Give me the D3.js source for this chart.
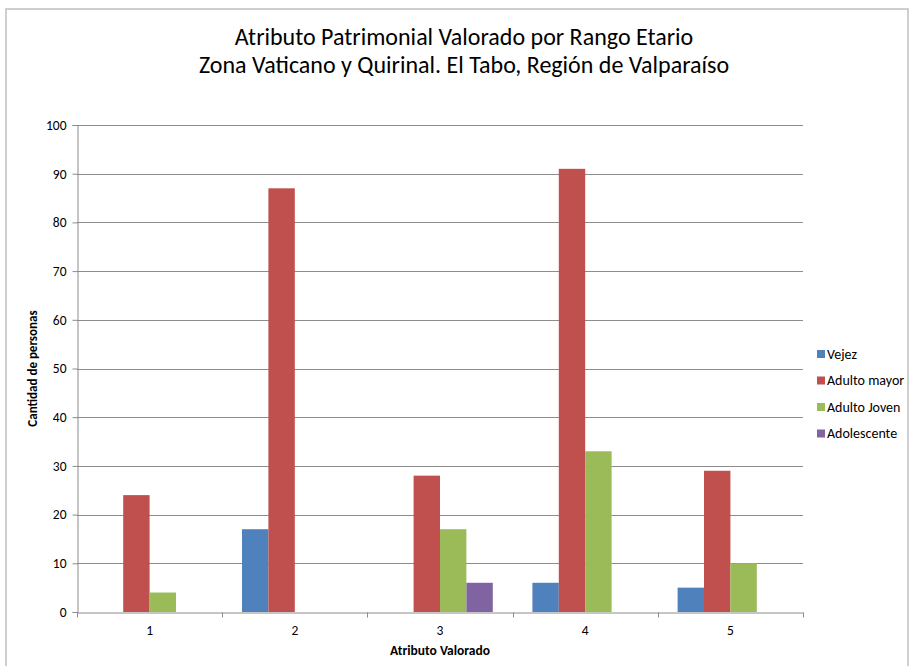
<!DOCTYPE html>
<html><head><meta charset="utf-8">
<script src="https://cdn.jsdelivr.net/npm/d3@7"></script>
<style>
body{margin:0;background:#fff;}
svg{display:block;}
</style></head>
<body>
<svg id="chart" width="911" height="666"></svg>
<script>
const categories = ["1","2","3","4","5"];
const seriesNames = ["Vejez","Adulto mayor","Adulto Joven","Adolescente"];
const vejez       = [0, 17, 0, 6, 5];
const adultoMayor = [24, 87, 28, 91, 29];
const adultoJoven = [4, 0, 17, 33, 10];
const adolescente = [0, 0, 6, 0, 0];
const colors = ["#4f81bd","#c0504d","#9bbb59","#8064a2"];
const yTicks = [0,10,20,30,40,50,60,70,80,90,100];
const titleLines = ["Atributo Patrimonial Valorado por Rango Etario","Zona Vaticano y Quirinal. El Tabo, Región de Valparaíso"];
const xTitle = "Atributo Valorado";
const yTitle = "Cantidad de personas";

const seriesValues = [vejez, adultoMayor, adultoJoven, adolescente];
const font = "Carlito, Calibri, 'Liberation Sans Narrow', 'Liberation Sans', sans-serif";

const svg = d3.select("#chart");
const pLeft = 77, pRight = 803, pTop = 125, pBottom = 612;

// outer frame
svg.append("rect").attr("x",6).attr("y",9).attr("width",902).attr("height",680)
  .attr("fill","none").attr("stroke","#c0c0c0").attr("stroke-width",1.5);

const x = d3.scaleBand().domain(categories).range([pLeft,pRight]).paddingInner(0).paddingOuter(0);
const groupInner = x.bandwidth()/5.5*4;
const xs = d3.scaleBand().domain(seriesNames).range([0, groupInner]);
const y = d3.scaleLinear().domain([0,100]).range([pBottom, pTop]);

// gridlines
svg.append("g").selectAll("line").data(yTicks.filter(d=>d>0)).join("line")
  .attr("x1",pLeft).attr("x2",pRight)
  .attr("y1",d=>Math.round(y(d))+0.5).attr("y2",d=>Math.round(y(d))+0.5)
  .attr("stroke","#8c8c8c").attr("stroke-width",1);

// bars
const gap = (x.bandwidth()-groupInner)/2;
seriesNames.forEach((s,si)=>{
  svg.append("g").selectAll("rect").data(categories.map((c,i)=>({c, v: seriesValues[si][i]}))).join("rect")
    .attr("x", d=> x(d.c)+gap+xs(s))
    .attr("width", xs.bandwidth())
    .attr("y", d=> y(d.v))
    .attr("height", d=> y(0)-y(d.v))
    .attr("fill", colors[si]);
});

// y axis
const yAxis = d3.axisLeft(y).tickValues(yTicks).tickSize(5).tickPadding(6);
const yg = svg.append("g").attr("transform",`translate(${pLeft+0.5},0)`).call(yAxis);
yg.select(".domain").attr("stroke","#8c8c8c");
yg.selectAll(".tick line").attr("stroke","#8c8c8c");
yg.selectAll(".tick text").attr("font-family",font).attr("font-size",13.5).attr("fill","#000");

// x axis
const xAxis = d3.axisBottom(x).tickSize(0).tickPadding(13);
const xg = svg.append("g").attr("transform",`translate(0,${pBottom+0.5})`).call(xAxis);
xg.select(".domain").attr("stroke","#8c8c8c");
xg.selectAll(".tick text").attr("font-family",font).attr("font-size",13.5).attr("fill","#000");
const bounds = categories.map(c=>x(c)).concat([pRight]);
xg.append("g").selectAll("line").data(bounds).join("line")
  .attr("x1",d=>Math.round(d)+0.5).attr("x2",d=>Math.round(d)+0.5)
  .attr("y1",0).attr("y2",5).attr("stroke","#8c8c8c");

// titles
svg.append("g").selectAll("text").data(titleLines).join("text")
  .attr("x",464).attr("y",(d,i)=>45+i*28)
  .attr("text-anchor","middle").attr("font-family",font).attr("font-size",24).attr("fill","#000")
  .text(d=>d);

svg.append("text").attr("x",(pLeft+pRight)/2).attr("y",655)
  .attr("text-anchor","middle").attr("font-family",font).attr("font-size",13.5).attr("font-weight","bold")
  .text(xTitle);

svg.append("text").attr("transform",`translate(37,${(pTop+pBottom)/2}) rotate(-90)`)
  .attr("text-anchor","middle").attr("font-family",font).attr("font-size",13).attr("font-weight","bold")
  .text(yTitle);

// legend
const lg = svg.append("g").selectAll("g").data(seriesNames).join("g")
  .attr("transform",(d,i)=>`translate(817,${354+i*26.5})`);
lg.append("rect").attr("x",0).attr("y",-4).attr("width",8).attr("height",8).attr("fill",(d,i)=>colors[i]);
lg.append("text").attr("x",10).attr("y",4.5).attr("font-family",font).attr("font-size",14).text(d=>d);
</script>
</body></html>
